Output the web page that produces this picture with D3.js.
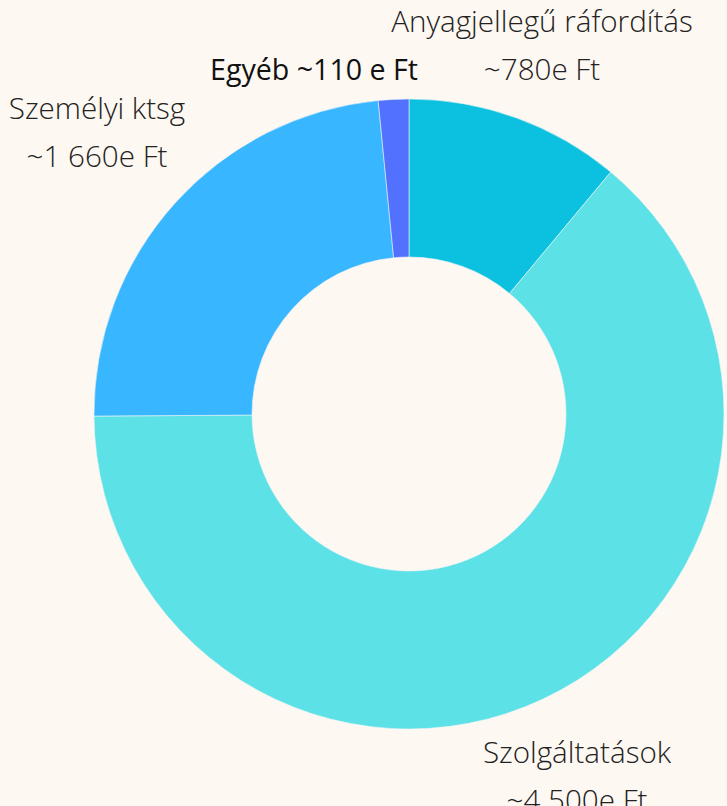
<!DOCTYPE html>
<html>
<head>
<meta charset="utf-8">
<script src="https://cdn.jsdelivr.net/npm/d3@7"></script>
<style>
  html, body { margin: 0; padding: 0; background: #fef8f2; }
  svg { display: block; }
  .lbl { font-family: "Open Sans", sans-serif; font-weight: 300; font-size: 29.6px; fill: #222; }
  .lbl.bold { font-weight: 400; font-size: 28.6px; fill: #111; }
</style>
</head>
<body>
<div id="chart"></div>
<script>
(function () {

  const categories = ['Anyagjellegű ráfordítás', 'Szolgáltatások', 'Személyi ktsg', 'Egyéb']
  const values = [780, 4500, 1660, 110]
  const valueLabels = ['~780e Ft', '~4 500e Ft', '~1 660e Ft', '~110 e Ft']
  const colors = ['#0cc0df', '#5ce1e6', '#38b6ff', '#5271ff']

  const width = 727
  const height = 806
  const cx = 409
  const cy = 414
  const outerR = 315
  const innerR = 157

  const svg = d3.select('#chart').append('svg')
      .attr('width', width)
      .attr('height', height)

  const g = svg.append('g')
      .attr('transform', 'translate(' + cx + ',' + cy + ')')

  const datapoints = categories.map((c, i) => ({ name: c, value: values[i], label: valueLabels[i], color: colors[i] }))

  const pie = d3.pie()
    .sort(null)
    .value(d => d.value)

  const arc = d3.arc()
    .innerRadius(innerR)
    .outerRadius(outerR)

  g.selectAll('path')
    .data(pie(datapoints))
    .join('path')
    .attr('d', arc)
    .attr('fill', d => d.data.color)
    .attr('stroke', '#e8f4f6')
    .attr('stroke-width', 0.6)

  // label spots, relative to the donut centre
  const labelSpots = [
    { x: 133, y: -382, two: true },
    { x: 168, y: 349, two: true },
    { x: -95, y: -334, two: false }
  ]
  labelSpots.splice(2, 0, { x: -312, y: -295, two: true })

  datapoints.forEach((d, i) => {
    const p = labelSpots[i]
    if (p.two) {
      g.append('text')
        .attr('class', 'lbl')
        .attr('text-anchor', 'middle')
        .attr('x', p.x)
        .attr('y', p.y)
        .text(d.name)
      g.append('text')
        .attr('class', 'lbl')
        .attr('text-anchor', 'middle')
        .attr('x', p.x)
        .attr('y', p.y + 48)
        .text(d.label)
    } else {
      g.append('text')
        .attr('class', 'lbl bold')
        .attr('text-anchor', 'middle')
        .attr('x', p.x)
        .attr('y', p.y)
        .text(d.name + ' ' + d.label)
    }
  })

})();
</script>
</body>
</html>
